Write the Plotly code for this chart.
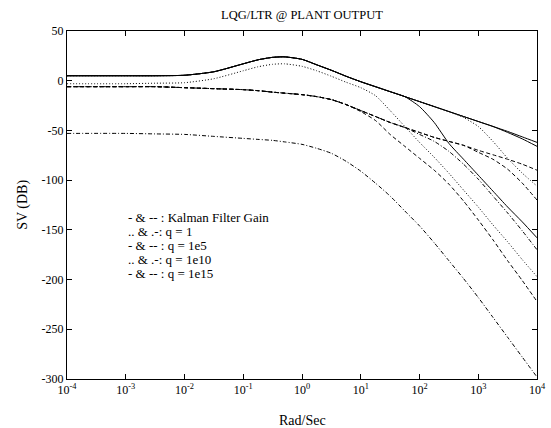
import plotly.graph_objects as go

# frequency grid (rad/s)
FREQ = [1e-4, 1e-3, 3.16e-3, 1e-2, 3.16e-2, 0.1, 0.178, 0.316, 0.5, 1.0,
        1.78, 3.16, 5.62, 10, 17.8, 31.6, 56.2, 100, 178, 316, 562,
        1000, 1780, 3160, 5620, 10000]

# Kalman filter loop: max SV (solid) and min SV (dashed)
KF_MAX = [5, 5, 5, 5.5, 9, 17, 21, 23.5, 24, 21.5, 16, 10.5, 4.5, -1, -6, -11,
          -16, -21, -26, -31, -36, -41, -46, -51, -56.5, -62]
KF_MIN = [-6, -6, -6, -7, -8, -9, -10, -11.5, -12.5, -14, -16, -19, -24, -30,
          -36, -42, -47, -52, -57, -61, -65, -70, -74.5, -79, -84, -90]
# q = 1 : max (dotted), min (dash-dot)
Q1_MAX = [-3, -3, -2.5, -2, 2, 10, 14, 16.5, 17, 14.5, 10, 4.5, -1.5, -7, -15,
          -30, -46, -62, -77, -93, -110, -127, -145, -162, -180, -197]
Q1_MIN = [-53, -53, -53.5, -54, -56, -58, -59, -60, -61.5, -64, -68, -73, -81,
          -91, -103, -116, -131, -146, -163, -181, -199, -218, -238, -258, -278, -298]
# q = 1e5 : max (solid), min (dashed)
Q5_MAX = [5, 5, 5, 5.5, 9, 17, 21, 23.5, 24, 21.5, 16, 10.5, 4.5, -1, -6, -11,
          -16, -26, -42, -63, -79, -95, -111, -127, -142, -158]
Q5_MIN = [-6, -6, -6, -7, -8, -9, -10, -11.5, -12.5, -14, -16, -19, -24, -31,
          -40, -54, -66, -78, -90, -104, -121, -140, -160, -181, -201, -222]
# q = 1e10 : max (dotted), min (dash-dot)
Q10_MAX = [5, 5, 5, 5.5, 9, 17, 21, 23.5, 24, 21.5, 16, 10.5, 4.5, -1, -6, -11,
           -16, -21, -26, -31, -37, -46, -61, -78, -93, -106]
Q10_MIN = [-6, -6, -6, -7, -8, -9, -10, -11.5, -12.5, -14, -16, -19, -24, -30,
           -36, -42, -47, -54, -61, -71, -84, -99, -116, -133, -151, -170]
# q = 1e15 : max (solid), min (dashed)
Q15_MAX = [5, 5, 5, 5.5, 9, 17, 21, 23.5, 24, 21.5, 16, 10.5, 4.5, -1, -6, -11,
           -16, -21, -26, -31, -36, -41, -46, -52, -58.5, -66]
Q15_MIN = [-6, -6, -6, -7, -8, -9, -10, -11.5, -12.5, -14, -16, -19, -24, -30,
           -36, -42, -47, -52, -57, -61, -65, -72, -79, -89, -103, -120]

X_TICKS = [1e-4, 1e-3, 1e-2, 1e-1, 1, 10, 100, 1000, 10000]
X_TICKTEXT = ["10<sup>-4</sup>", "10<sup>-3</sup>", "10<sup>-2</sup>", "10<sup>-1</sup>",
              "10<sup>0</sup>", "10<sup>1</sup>", "10<sup>2</sup>", "10<sup>3</sup>",
              "10<sup>4</sup>"]
Y_TICKS = [50, 0, -50, -100, -150, -200, -250, -300]
Y_TICKTEXT = ["50", "0", "-50", "-100", "-150", "-200", "-250", "-300"]

NOTES = ["- & -- : Kalman Filter Gain", ".. & .-: q = 1", "- & -- : q = 1e5",
         ".. & .-: q = 1e10", "- & -- : q = 1e15"]
NOTE_Y = [-138, -152, -166, -180, -194]

SOLID = "solid"
DASH = "4px,2.5px"
DOT = "1px,2px"
DASHDOT = "4px,2px,1px,2px"

series = [
    (KF_MAX, SOLID), (KF_MIN, DASH),
    (Q1_MAX, DOT), (Q1_MIN, DASHDOT),
    (Q5_MAX, SOLID), (Q5_MIN, DASH),
    (Q10_MAX, DOT), (Q10_MIN, DASHDOT),
    (Q15_MAX, SOLID), (Q15_MIN, DASH),
]

fig = go.Figure()
for vals, dash in series:
    fig.add_trace(go.Scatter(x=FREQ, y=vals, mode="lines",
                             line=dict(color="black", width=1, dash=dash, shape="spline", smoothing=0.6),
                             showlegend=False, hoverinfo="skip"))

FONT = "Liberation Serif, Times New Roman, serif"
axis_common = dict(showline=True, linecolor="black", linewidth=1, mirror="ticks",
                   ticks="inside", ticklen=5, tickcolor="black", showgrid=False,
                   zeroline=False, ticklabeloverflow="allow",
                   tickfont=dict(family=FONT, size=12, color="black"))

fig.update_xaxes(type="log", range=[-4, 4], tickvals=X_TICKS, ticktext=X_TICKTEXT,
                 **axis_common)
fig.update_yaxes(range=[-300, 50], tickvals=Y_TICKS, ticktext=Y_TICKTEXT, **axis_common)

annotations = []
for txt, yv in zip(NOTES, NOTE_Y):
    annotations.append(dict(x=-3.0, y=yv, xref="x", yref="y", text=txt, showarrow=False,
                            xanchor="left", yanchor="middle",
                            font=dict(family=FONT, size=13, color="black")))
annotations.append(dict(x=0.5, y=1.046, xref="paper", yref="paper", text="LQG/LTR @ PLANT OUTPUT",
                        showarrow=False, xanchor="center", yanchor="middle",
                        font=dict(family=FONT, size=12.5, color="black")))
annotations.append(dict(x=0.5, y=-0.118, xref="paper", yref="paper", text="Rad/Sec",
                        showarrow=False, xanchor="center", yanchor="middle",
                        font=dict(family=FONT, size=14, color="black")))
annotations.append(dict(x=-0.094, y=0.5, xref="paper", yref="paper", text="SV (DB)",
                        showarrow=False, xanchor="center", yanchor="middle", textangle=-90,
                        font=dict(family=FONT, size=14, color="black")))

fig.update_layout(width=551, height=428, margin=dict(l=67, r=5, t=31, b=49),
                  paper_bgcolor="white", plot_bgcolor="white", annotations=annotations)

fig.write_html("out.html", config={"displayModeBar": False},
               post_script="document.body.style.margin='0px';document.body.style.overflow='hidden';")
